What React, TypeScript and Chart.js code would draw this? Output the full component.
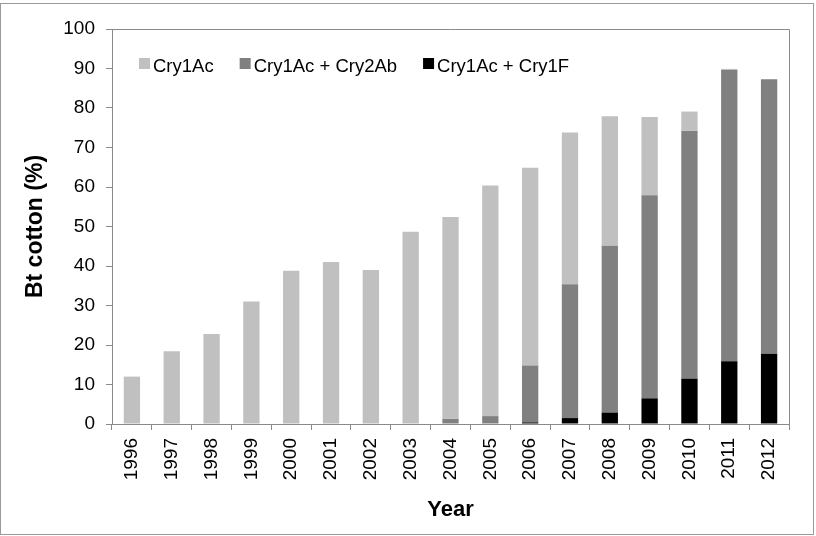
import React, { useEffect, useRef } from "react";
import { Chart, registerables } from "chart.js";

Chart.register(...registerables);

const years = ["1996", "1997", "1998", "1999", "2000", "2001", "2002", "2003", "2004", "2005", "2006", "2007", "2008", "2009", "2010", "2011", "2012"];
const cry1Ac = [12, 18.4, 22.8, 31, 38.8, 41, 39, 48.7, 51.1, 58.4, 50.1, 38.4, 32.8, 19.8, 4.9, 0.2, 0];
const cry1AcCry2Ab = [0, 0, 0, 0, 0, 0, 0, 0, 1.3, 2.0, 14.4, 33.9, 42.2, 51.4, 62.7, 73.8, 69.5];
const cry1AcCry1F = [0, 0, 0, 0, 0, 0, 0, 0, 0, 0, 0.4, 1.5, 2.9, 6.5, 11.5, 15.9, 17.8];
const yTicks = [0, 10, 20, 30, 40, 50, 60, 70, 80, 90, 100];

const FONT = '"Liberation Sans", Arial, sans-serif';
const AXIS_GRAY = "#8a8a8a";

const framePlugin = {
  id: "frame",
  afterDraw(chart: any) {
    const { ctx, chartArea } = chart;
    ctx.save();
    ctx.strokeStyle = AXIS_GRAY;
    ctx.lineWidth = 1;
    ctx.beginPath();
    ctx.moveTo(chartArea.left, Math.round(chartArea.top) + 0.5);
    ctx.lineTo(Math.round(chartArea.right) + 0.5, Math.round(chartArea.top) + 0.5);
    ctx.lineTo(Math.round(chartArea.right) + 0.5, chartArea.bottom);
    ctx.stroke();
    // outer border
    ctx.strokeStyle = "#9a9a9a";
    ctx.strokeRect(0.5, 3.5, 813, 531);
    // legend inside plot
    const items = [2, 1, 0].map((i) => chart.data.datasets[i]);
    ctx.font = `18.5px ${FONT}`;
    ctx.textBaseline = "alphabetic";
    ctx.textAlign = "left";
    let x = 139;
    for (const ds of items) {
      ctx.fillStyle = ds.backgroundColor;
      ctx.fillRect(x, 58, 11, 11);
      ctx.fillStyle = "#000";
      ctx.fillText(ds.label, x + 14, 72);
      x += 14 + ctx.measureText(ds.label).width + 26;
    }
    ctx.restore();
  },
};

export default function App() {
  const ref = useRef<HTMLCanvasElement>(null);
  useEffect(() => {
    if (!ref.current) return;
    const chart = new Chart(ref.current, {
      type: "bar",
      data: {
        labels: years,
        datasets: [
          { label: "Cry1Ac + Cry1F", data: cry1AcCry1F, backgroundColor: "#000000", barPercentage: 0.41, categoryPercentage: 1 },
          { label: "Cry1Ac + Cry2Ab", data: cry1AcCry2Ab, backgroundColor: "#808080", barPercentage: 0.41, categoryPercentage: 1 },
          { label: "Cry1Ac", data: cry1Ac, backgroundColor: "#c0c0c0", barPercentage: 0.41, categoryPercentage: 1 },
        ],
      },
      options: {
        animation: false,
        responsive: false,
        devicePixelRatio: 1,
        layout: { padding: { left: 22, top: 29, right: 27, bottom: 13 } },
        plugins: { legend: { display: false }, tooltip: { enabled: false } },
        scales: {
          x: {
            stacked: true,
            afterFit: (s: any) => { s.height = 99; },
            grid: { display: true, drawOnChartArea: false, drawTicks: true, tickLength: 6, color: AXIS_GRAY, offset: true },
            border: { display: true, color: AXIS_GRAY },
            ticks: { autoSkip: false, minRotation: 90, maxRotation: 90, padding: 8, color: "#000", font: { family: FONT, size: 19 } },
            title: { display: true, text: "Year", color: "#000", padding: 0, font: { family: FONT, size: 22, weight: "bold" } },
          },
          y: {
            stacked: true,
            min: 0,
            max: 100,
            afterFit: (s: any) => { s.width = 90; },
            afterBuildTicks: (s: any) => { s.ticks = yTicks.map((v) => ({ value: v })); },
            grid: { display: true, drawOnChartArea: false, drawTicks: true, tickLength: 6, color: AXIS_GRAY },
            border: { display: true, color: AXIS_GRAY },
            ticks: { padding: 11, color: "#000", font: { family: FONT, size: 19 } },
            title: { display: true, text: "Bt cotton (%)", color: "#000", padding: 0, font: { family: FONT, size: 23, weight: "bold" } },
          },
        },
      },
      plugins: [framePlugin],
    });
    return () => chart.destroy();
  }, []);
  return (
    <div style={{ position: "fixed", left: 0, top: 0, width: 816, height: 536, background: "#fff" }}>
      <canvas ref={ref} width={816} height={536} style={{ display: "block" }} />
    </div>
  );
}
